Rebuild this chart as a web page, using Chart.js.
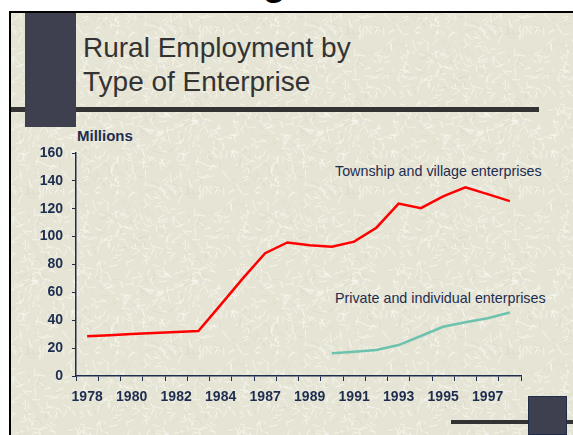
<!DOCTYPE html>
<html>
<head>
<meta charset="utf-8">
<script src="https://cdn.jsdelivr.net/npm/chart.js@4.4.1/dist/chart.umd.min.js"></script>
<style>
  html, body { margin: 0; padding: 0; background: #fff; }
  #page { position: relative; width: 573px; height: 435px; overflow: hidden; background: #fff; font-family: Arial, "Liberation Sans", sans-serif; }
  #slide { position: absolute; left: 9px; top: 11px; right: 0; bottom: 0; border-left: 2px solid #000; border-top: 2px solid #000; background-color: #e8e6d8; }
  .block { position: absolute; background: #3e3f4f; }
  .rule { position: absolute; background: #333; }
  #prevG { position: absolute; left: 262px; top: -43px; font-size: 44px; line-height: 44px; color: #000; }
  #title { position: absolute; left: 83px; top: 31px; font-size: 28px; line-height: 34px; color: #333; }
  #units { position: absolute; left: 77px; top: 128px; font-size: 15px; line-height: 15px; font-weight: bold; color: #1c2d4f; }
  .tag { position: absolute; font-size: 14.3px; line-height: 16px; color: #1c2d4f; white-space: nowrap; }
  #chart { position: absolute; left: 0; top: 0; }
</style>
</head>
<body>
<div id="page">
  <div id="prevG">g</div>
  <div id="slide"></div>
  <div class="rule" style="left:11px; top:107px; width:528px; height:5px;"></div>
  <div class="block" style="left:25px; top:13px; width:51px; height:114px;"></div>
  <div class="rule" style="left:451px; top:420px; width:122px; height:4px;"></div>
  <div class="block" style="left:528px; top:396px; width:39px; height:39px; box-shadow: inset 0 0 0 1px #1f2d4a;"></div>
  <div id="title">Rural Employment by<br>Type of Enterprise</div>
  <div id="units">Millions</div>
  <div class="tag" style="left:335px; top:163px;">Township and village enterprises</div>
  <div class="tag" style="left:335px; top:290px;">Private and individual enterprises</div>
  <canvas id="chart" width="573" height="435"></canvas>
</div>
<script>
// years on the axis (1986 is not in the series)
const years = ['1978', '1979', '1980', '1981', '1982', '1983', '1984', '1985', '1987', '1988',
               '1989', '1990', '1991', '1992', '1993', '1994', '1995', '1996', '1997', '1998'];

// employment, millions
const townshipVillage = [28.5, 29.3, 30.1, 30.8, 31.5, 32.3, 51, 70, 88.1, 95.8,
                         93.8, 92.8, 96.4, 106.4, 123.7, 120.4, 128.9, 135.3, 130.5, 125.5];
const privateIndividual = [null, null, null, null, null, null, null, null, null, null,
                           null, 16.3, 17.4, 18.7, 22.2, 28.7, 35.3, 38.5, 41.4, 45.5];

const navy = '#1c2d4f';

// paper texture for the slide background: short pale fibres
function makeTexture() {
    const c = document.createElement('canvas');
    c.width = 160; c.height = 160;
    const g = c.getContext('2d');
    g.fillStyle = '#e6e4d5';
    g.fillRect(0, 0, 160, 160);
    let seed = 12345;
    const rnd = () => { seed = (seed * 1103515245 + 12345) % 2147483648; return seed / 2147483648; };
    g.lineCap = 'round';
    for (let i = 0; i < 700; i++) {
        const x = rnd() * 160, y = rnd() * 160, a = rnd() * Math.PI * 2, len = 3 + rnd() * 6;
        const light = i % 4 !== 0;
        g.strokeStyle = light ? 'rgba(250,249,242,0.7)' : 'rgba(210,206,188,0.35)';
        g.lineWidth = 1;
        for (const dx of [0, -160, 160]) {
            for (const dy of [0, -160, 160]) {
                g.beginPath();
                g.moveTo(x + dx, y + dy);
                g.lineTo(x + dx + Math.cos(a) * len, y + dy + Math.sin(a) * len);
                g.stroke();
            }
        }
    }
    return c.toDataURL();
}
document.getElementById('slide').style.backgroundImage = 'url(' + makeTexture() + ')';

const tickFont = { family: 'Arial, "Liberation Sans", sans-serif', size: 14, weight: 'bold' };

new Chart(document.getElementById('chart').getContext('2d'), {
    type: 'line',
    data: {
        labels: years,
        datasets: [
            {
                label: 'Township and village enterprises',
                data: townshipVillage,
                borderColor: '#ff0000',
                borderWidth: 2.5,
                pointRadius: 0,
                tension: 0
            },
            {
                label: 'Private and individual enterprises',
                data: privateIndividual,
                borderColor: '#6cc2ae',
                borderWidth: 2.5,
                pointRadius: 0,
                tension: 0,
                spanGaps: false
            }
        ]
    },
    options: {
        responsive: false,
        devicePixelRatio: 1,
        animation: false,
        layout: { padding: { left: 36, top: 153, right: 52, bottom: 29 } },
        plugins: { legend: { display: false }, tooltip: { enabled: false } },
        scales: {
            x: {
                type: 'category',
                offset: true,
                grid: { offset: true, drawOnChartArea: false, tickLength: 5, color: navy, lineWidth: 1 },
                border: { color: navy, width: 1.5 },
                ticks: {
                    autoSkip: false,
                    maxRotation: 0,
                    padding: 8,
                    color: navy,
                    font: tickFont,
                    callback: function (v, i) { return i % 2 === 0 ? this.getLabelForValue(v) : ''; }
                },
                afterFit: function (s) { s.height = 30; }
            },
            y: {
                min: 0,
                max: 160,
                grid: { drawOnChartArea: false, tickLength: 4, color: navy, lineWidth: 1 },
                border: { color: navy, width: 1.5 },
                ticks: { stepSize: 20, padding: 9, color: navy, font: tickFont },
                afterFit: function (s) { s.width = 40; }
            }
        }
    }
});
</script>
</body>
</html>
